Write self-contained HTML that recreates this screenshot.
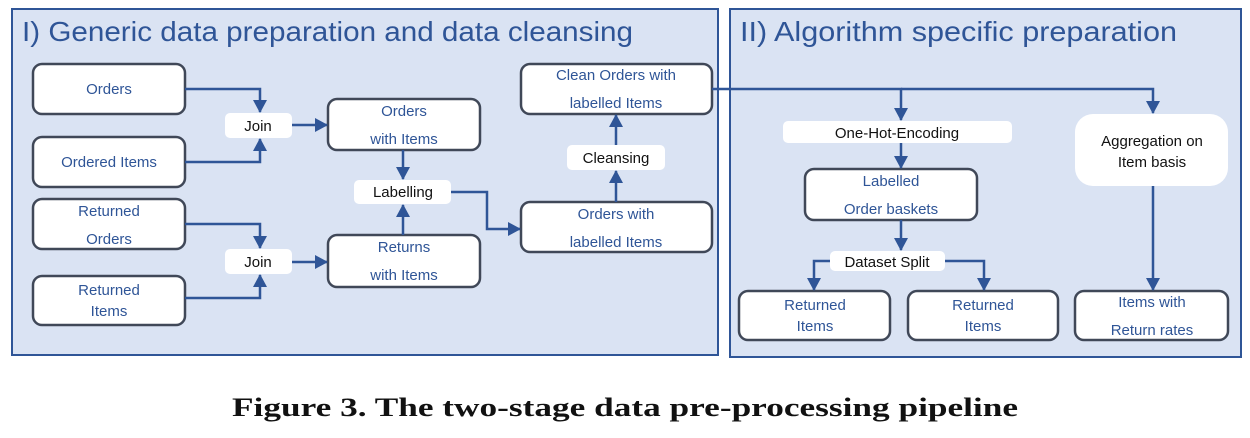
<!DOCTYPE html>
<html><head><meta charset="utf-8"><style>
html,body{margin:0;padding:0;background:#fff;width:1250px;height:438px;overflow:hidden}
svg{display:block}
</style></head><body>
<svg width="1250" height="438" viewBox="0 0 1250 438" xmlns="http://www.w3.org/2000/svg" font-family="Liberation Sans, DejaVu Sans, sans-serif">
<defs>
<marker id="a" markerWidth="14" markerHeight="14" refX="12" refY="7" orient="auto" markerUnits="userSpaceOnUse">
<path d="M0,0 L13,7 L0,14 Z" fill="#2f5597"/></marker>
</defs>
<rect x="12" y="9" width="706" height="346" fill="#dae3f3" stroke="#2f5597" stroke-width="2"/>
<rect x="730" y="9" width="511" height="348" fill="#dae3f3" stroke="#2f5597" stroke-width="2"/>
<text x="22" y="41" font-size="28" fill="#2f5597" textLength="611" lengthAdjust="spacingAndGlyphs">I) Generic data preparation and data cleansing</text>
<text x="740" y="41" font-size="28" fill="#2f5597" textLength="437" lengthAdjust="spacingAndGlyphs">II) Algorithm specific preparation</text>

<g fill="#fff" stroke="#404858" stroke-width="2.5">
<rect x="33" y="64" width="152" height="50" rx="9"/>
<rect x="33" y="137" width="152" height="50" rx="9"/>
<rect x="33" y="199" width="152" height="50" rx="9"/>
<rect x="33" y="276" width="152" height="49" rx="9"/>
<rect x="328" y="99" width="152" height="51" rx="9"/>
<rect x="328" y="235" width="152" height="52" rx="9"/>
<rect x="521" y="202" width="191" height="50" rx="9"/>
<rect x="521" y="64" width="191" height="50" rx="9"/>
<rect x="805" y="169" width="172" height="51" rx="9"/>
<rect x="739" y="291" width="151" height="49" rx="9"/>
<rect x="908" y="291" width="150" height="49" rx="9"/>
<rect x="1075" y="291" width="153" height="49" rx="9"/>
</g>
<g fill="#fff">
<rect x="225" y="113" width="67" height="25" rx="5"/>
<rect x="225" y="249" width="67" height="25" rx="5"/>
<rect x="354" y="180" width="97" height="24" rx="5"/>
<rect x="567" y="145" width="98" height="25" rx="5"/>
<rect x="783" y="121" width="229" height="22" rx="5"/>
<rect x="830" y="251" width="115" height="20" rx="5"/>
<rect x="1075" y="114" width="153" height="72" rx="18"/>
</g>

<g stroke="#2f5597" stroke-width="2.5" fill="none" marker-end="url(#a)">
<path d="M185,89 H260 V112"/>
<path d="M185,162 H260 V139"/>
<path d="M292,125 H327"/>
<path d="M185,224 H260 V248"/>
<path d="M185,298 H260 V275"/>
<path d="M292,262 H327"/>
<path d="M403,150 V179"/>
<path d="M403,235 V205"/>
<path d="M451,192 H487 V229 H520"/>
<path d="M616,202 V171"/>
<path d="M616,145 V115"/>
<path d="M712,89 H901 V120"/>
<path d="M901,89 H1153 V113"/>
<path d="M901,143 V168"/>
<path d="M901,220 V250"/>
<path d="M830,261 H814 V290"/>
<path d="M945,261 H984 V290"/>
<path d="M1153,186 V290"/>
</g>

<g font-size="15" fill="#2f5597" text-anchor="middle">
<text x="109" y="94">Orders</text>
<text x="109" y="167">Ordered Items</text>
<text x="109" y="216">Returned</text>
<text x="109" y="244">Orders</text>
<text x="109" y="295">Returned</text>
<text x="109" y="316">Items</text>
<text x="404" y="116">Orders</text>
<text x="404" y="144">with Items</text>
<text x="404" y="252">Returns</text>
<text x="404" y="280">with Items</text>
<text x="616" y="219">Orders with</text>
<text x="616" y="247">labelled Items</text>
<text x="616" y="80">Clean Orders with</text>
<text x="616" y="108">labelled Items</text>
<text x="891" y="186">Labelled</text>
<text x="891" y="214">Order baskets</text>
<text x="815" y="310">Returned</text>
<text x="815" y="331">Items</text>
<text x="983" y="310">Returned</text>
<text x="983" y="331">Items</text>
<text x="1152" y="307">Items with</text>
<text x="1152" y="335">Return rates</text>
</g>
<g font-size="15" fill="#111" text-anchor="middle">
<text x="258" y="131">Join</text>
<text x="258" y="267">Join</text>
<text x="403" y="197">Labelling</text>
<text x="616" y="163">Cleansing</text>
<text x="897" y="138">One-Hot-Encoding</text>
<text x="887" y="267">Dataset Split</text>
<text x="1152" y="146">Aggregation on</text>
<text x="1152" y="167">Item basis</text>
</g>
<text x="232" y="416" font-family="Liberation Serif, DejaVu Serif, serif" font-weight="bold" font-size="26" fill="#111" textLength="786" lengthAdjust="spacingAndGlyphs">Figure 3. The two-stage data pre-processing pipeline</text>
</svg>
</body></html>
